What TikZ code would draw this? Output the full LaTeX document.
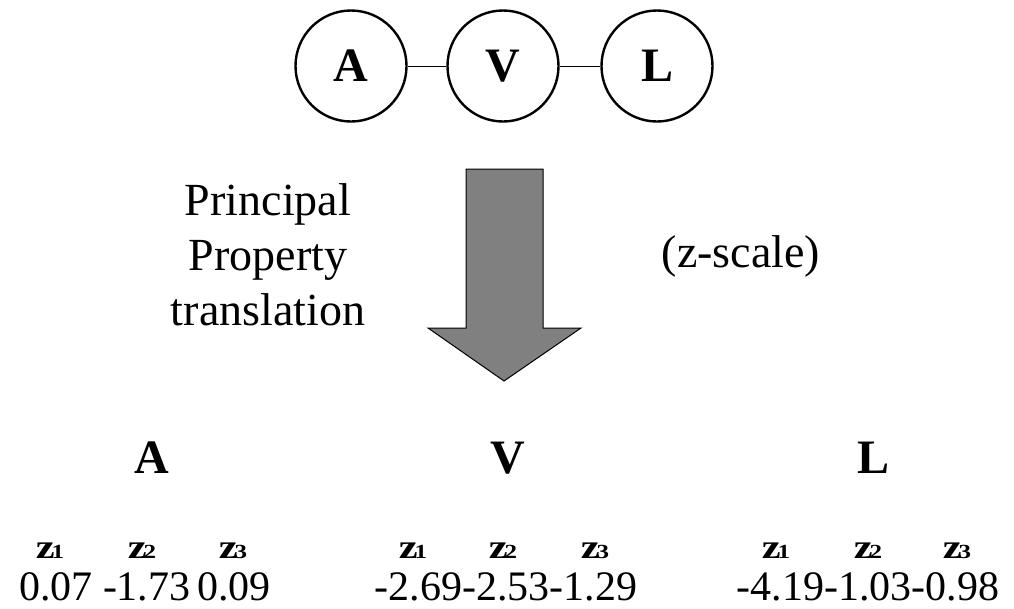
\documentclass[tikz,border=0pt]{standalone}
\usepackage{fontspec}
\setmainfont{Liberation Serif}
\usetikzlibrary{positioning}

% subscripted variable label: bold z with a small index (no depth below the baseline)
\newcommand\zlab[1]{\raisebox{0pt}[\height][0pt]{\scalebox{1.25}[1]{\fontsize{34}{34}\selectfont\textbf{z}\kern-2.5pt{\fontsize{20}{20}\selectfont\textbf{#1}}}}}

\tikzset{
  res/.style={circle, draw, line width=2.4pt, minimum size=111pt, inner sep=0pt,
              font=\fontsize{48}{48}\selectfont\bfseries},
  link/.style={line width=1pt},
  bigtext/.style={anchor=base, inner sep=0pt, font=\fontsize{46}{55}\selectfont},
  reslabel/.style={anchor=base, inner sep=0pt, font=\fontsize{48}{48}\selectfont\bfseries},
  zvar/.style={anchor=base, inner sep=0pt},
  zval/.style={anchor=base, inner sep=0pt, font=\fontsize{42}{42}\selectfont},
  shiftarrow/.style={fill=black!50, draw=black, line width=1pt, line join=miter}
}

\begin{document}
\begin{tikzpicture}[x=1pt, y=-1pt]
  \useasboundingbox (0,0) rectangle (1014,608);

  % chain of three residues
  \node[res] (cA) at (351,66) {A};
  \node[res] (cV) at (503,66) {V};
  \node[res] (cL) at (657,66) {L};
  \draw[link] (cA) -- (cV);
  \draw[link] (cV) -- (cL);

  % translation arrow
  \draw[shiftarrow] (466,169) -- (543,169) -- (543,328) -- (581,328)
        -- (504,381) -- (428,328) -- (466,328) -- cycle;

  \node[bigtext] (t1) at (268,215) {Principal};
  \node[bigtext] (t2) at (268,270) {Property};
  \node[bigtext] (t3) at (268,325) {translation};
  \node[bigtext] (zs) at (741,267) {(z-scale)};

  % residue headings
  \node[reslabel] (hA) at (152,473) {A};
  \node[reslabel] (hV) at (508,473) {V};
  \node[reslabel] (hL) at (873,473) {L};

  % z-scale descriptors
  \node[zvar] (a1) at (50,558)  {\zlab{1}};
  \node[zvar] (a2) at (142,558) {\zlab{2}};
  \node[zvar] (a3) at (233,558) {\zlab{3}};
  \node[zvar] (v1) at (413,558) {\zlab{1}};
  \node[zvar] (v2) at (503,558) {\zlab{2}};
  \node[zvar] (v3) at (595,558) {\zlab{3}};
  \node[zvar] (l1) at (776,558) {\zlab{1}};
  \node[zvar] (l2) at (868,558) {\zlab{2}};
  \node[zvar] (l3) at (957,558) {\zlab{3}};

  \node[zval] (va) at (145,600) {0.07 -1.73\,0.09};
  \node[zval] (vv) at (506,600) {-2.69-2.53-1.29};
  \node[zval] (vl) at (868,600) {-4.19-1.03-0.98};
\end{tikzpicture}
\end{document}
